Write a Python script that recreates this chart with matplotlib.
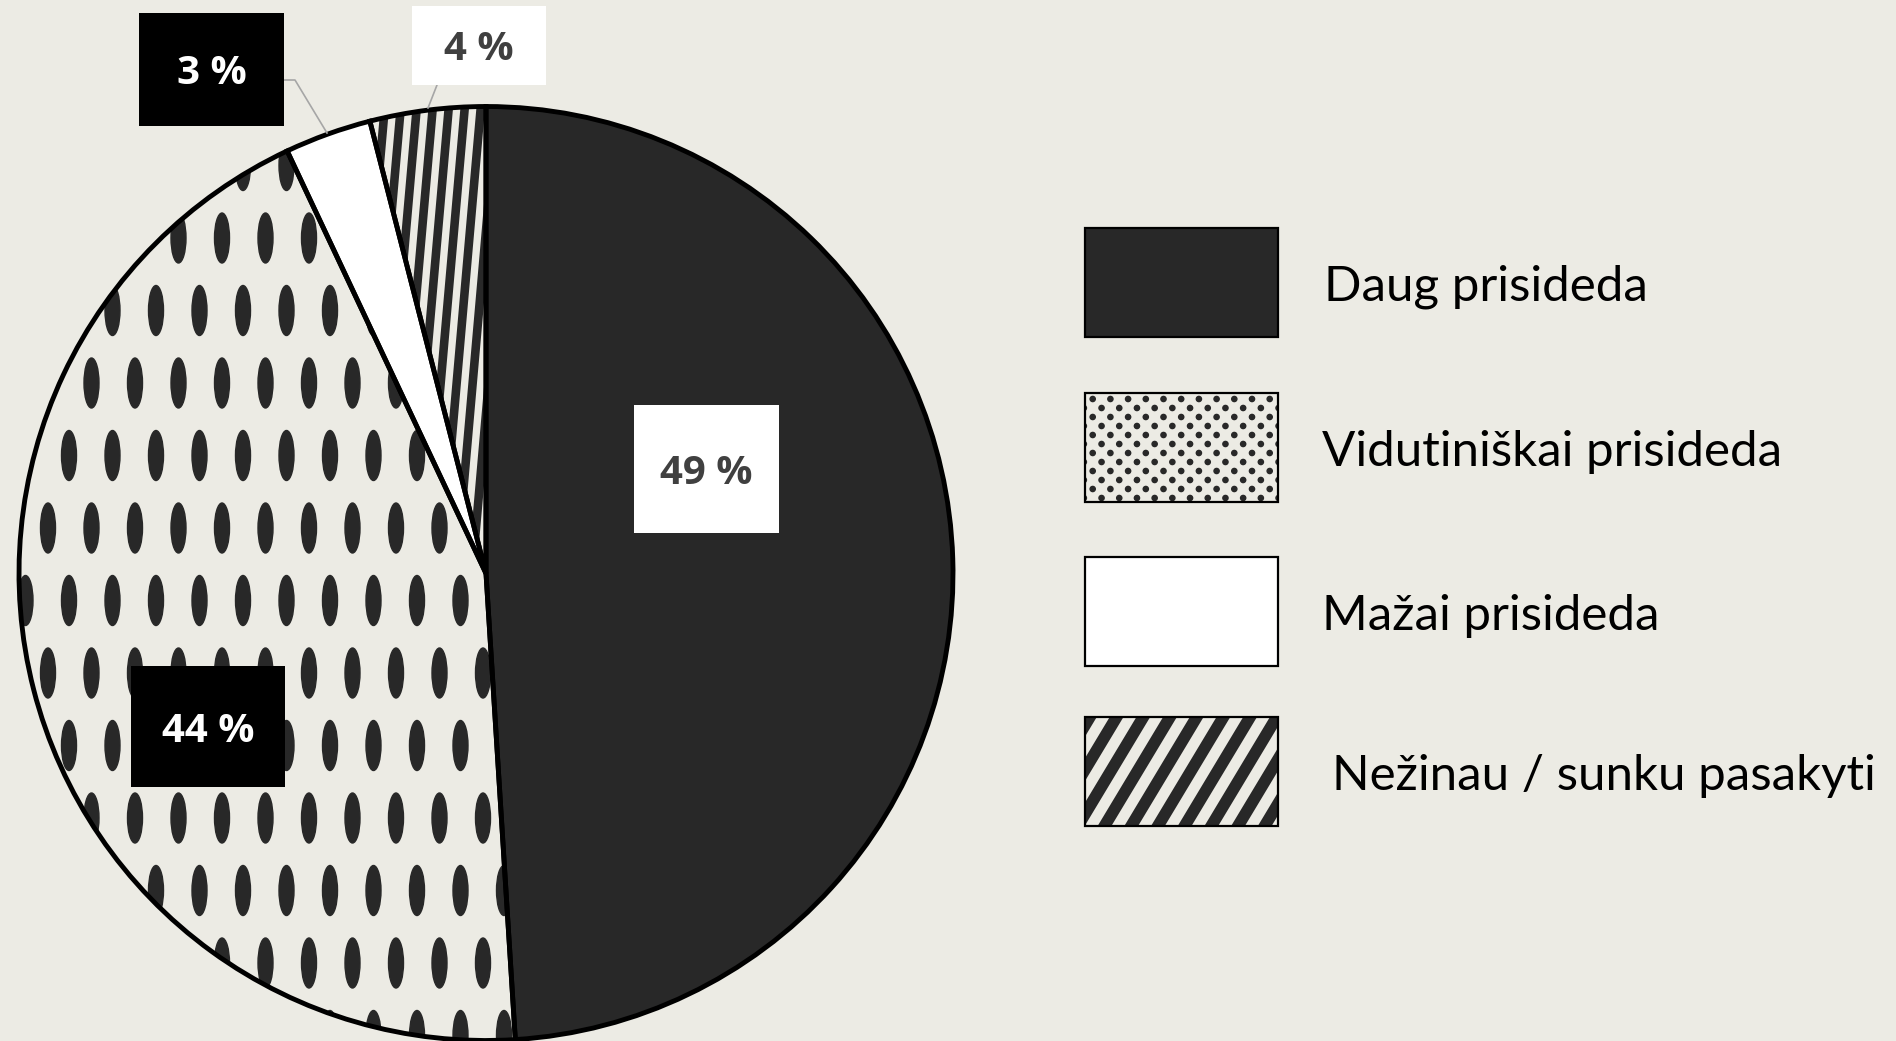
import numpy as np
import matplotlib.pyplot as plt
from matplotlib.patches import Rectangle, Ellipse, Circle

# data
labels = ["Daug prisideda", "Vidutiniškai prisideda", "Mažai prisideda", "Nežinau / sunku pasakyti"]
shares = [49, 44, 3, 4]
pct_text = ["49 %", "44 %", "3 %", "4 %"]

bg = "#ECEBE4"
dark = "#282828"
W, H = 1896, 1041

fig = plt.figure(figsize=(W / 100, H / 100), dpi=100, facecolor=bg)
ax = fig.add_axes([0, 0, 1, 1])
ax.set_facecolor(bg)

# pie, centre / radius in pixel units (y measured from bottom)
cx, cy, r = 486, H - 573.5, 467
wedges, _ = ax.pie(shares, startangle=90, counterclock=False, center=(cx, cy), radius=r,
                   colors=[dark, bg, "white", bg], wedgeprops=dict(linewidth=0))

# big oval pattern on the second slice
dx, dy = 43.5, 72.5
for k, yy in enumerate(np.arange(H - 673 - 8 * dy, H, dy)):
    x0 = 48 if k % 2 == 0 else 69
    for xx in np.arange(x0 - 2 * dx, 560, dx):
        e = Ellipse((xx, yy), 15, 50, color=dark, zorder=2)
        ax.add_patch(e)
        e.set_clip_path(wedges[1])

# near-vertical stripes on the fourth slice
tilt = np.tan(np.radians(5))
for xs in np.arange(200, 520, 16):
    ln, = ax.plot([xs, xs + tilt * 600], [cy, cy + 600], color=dark, lw=6.2,
                  solid_capstyle="butt", zorder=2)
    ln.set_clip_path(wedges[3])

# outlines on top of the patterns
ax.pie(shares, startangle=90, counterclock=False, center=(cx, cy), radius=r,
       wedgeprops=dict(fill=False, edgecolor="black", linewidth=3.5, zorder=3))

# data labels
boxes = [(634, 405, 779, 533), (131, 666, 285, 787), (139, 13, 284, 126), (412, 6, 546, 85)]
box_fc = ["white", "black", "black", "white"]
txt_c = ["#404040", "white", "white", "#404040"]
for (x0, y0, x1, y1), t, fc, tc in zip(boxes, pct_text, box_fc, txt_c):
    ax.add_patch(Rectangle((x0, H - y1), x1 - x0, y1 - y0, facecolor=fc, edgecolor="none", zorder=4))
    ax.text((x0 + x1) / 2, H - ((y0 + y1) / 2 + 15), t, ha="center", va="baseline",
            fontsize=29, fontweight="bold", family="Open Sans", color=tc, zorder=5)

# leader lines
ax.plot([284, 295, 327], [H - 80, H - 80, H - 133], color="#A6A6A6", lw=1.2, zorder=3)
ax.plot([437, 428], [H - 85, H - 108], color="#A6A6A6", lw=1.2, zorder=3)

# legend
lx0, lx1 = 1085, 1278
rows = [(228, 337), (393, 502), (557, 666), (717, 826)]
text_x = [1324, 1322, 1322, 1332]
for i, (y0, y1) in enumerate(rows):
    rect = Rectangle((lx0, H - y1), lx1 - lx0, y1 - y0, facecolor=[dark, bg, "white", bg][i],
                     edgecolor="none", zorder=2)
    ax.add_patch(rect)
    if i == 1:
        for j, yy in enumerate(np.arange(H - y1 - 5, H - y0 + 5, 9)):
            off = 0 if j % 2 == 0 else 8.85
            for xx in np.arange(lx0 - 10 + off, lx1 + 10, 17.7):
                c = Circle((xx, yy), 2.6, color=dark, zorder=3)
                ax.add_patch(c)
                c.set_clip_path(rect)
    if i == 3:
        ang = np.radians(59)
        for xs in np.arange(lx0 - 120, lx1 + 20, 26.7):
            ln, = ax.plot([xs, xs + 160 / np.tan(ang)], [H - y1 - 10, H - y1 + 150], color=dark,
                          lw=8.5, solid_capstyle="butt", zorder=3)
            ln.set_clip_path(rect)
    ax.add_patch(Rectangle((lx0, H - y1), lx1 - lx0, y1 - y0, fill=False,
                           edgecolor="black", lw=1.6, zorder=4))
    ax.text(text_x[i], H - ((y0 + y1) / 2 + 18), labels[i], ha="left", va="baseline",
            fontsize=35.5, family="Lato", color="black")

ax.set_xlim(0, W)
ax.set_ylim(0, H)
ax.set_aspect("equal")
ax.axis("off")

fig.savefig("out.png", dpi=100, facecolor=bg)
